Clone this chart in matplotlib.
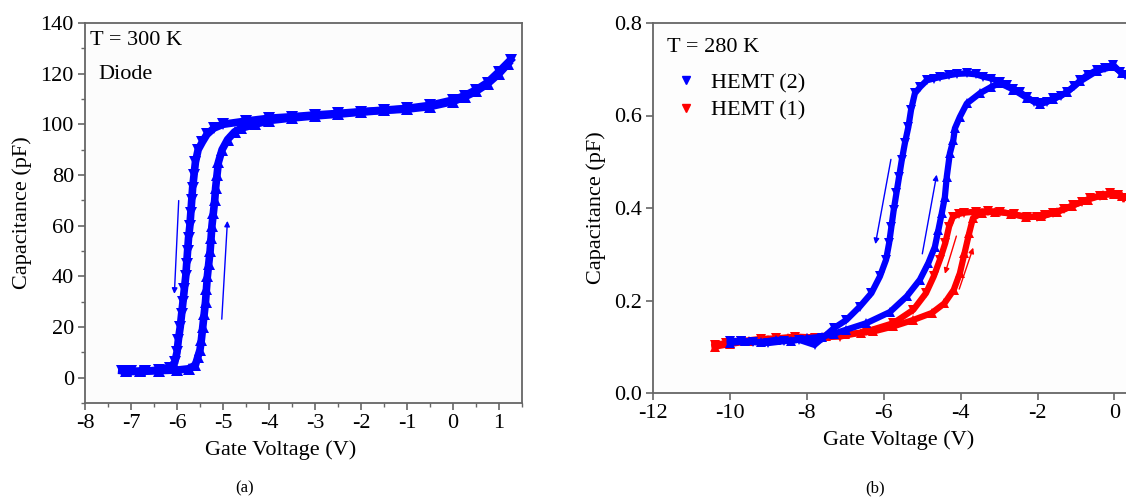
import matplotlib.pyplot as plt
from matplotlib.lines import Line2D
from matplotlib.ticker import MultipleLocator

plt.rcParams['font.family'] = ['Liberation Serif', 'DejaVu Serif']
plt.rcParams['axes.unicode_minus'] = False
fontsize = 16

# ---- (a) diode, T = 300 K ----
diode_down_v = [1.25, 1.0, 0.75, 0.5, 0.25, 0.0, -0.5, -1.0, -1.5, -2.0, -2.5, -3.0, -3.5, -4.0, -4.5, -5.0,
                -5.2, -5.35, -5.45, -5.54, -5.6, -5.63, -5.66, -5.68, -5.70, -5.72, -5.75, -5.77, -5.79,
                -5.81, -5.84, -5.87, -5.90, -5.93, -5.97, -6.0, -6.05, -6.15, -6.4, -6.7, -7.0, -7.2]
diode_down_c = [125.4, 120.8, 116.5, 113.6, 111.3, 109.6, 107.5, 106.3, 105.6, 105.0, 104.3, 103.7, 103.0,
                102.4, 101.3, 100.0, 98.5, 96.0, 93.0, 90.0, 85.0, 80.0, 75.0, 70.0, 65.0, 60.0, 55.0, 50.0,
                45.0, 40.0, 35.0, 30.0, 25.0, 20.0, 15.0, 10.0, 6.0, 4.0, 3.0, 2.5, 2.5, 2.8]
diode_up_v = [-7.1, -6.8, -6.4, -6.0, -5.75, -5.6, -5.55, -5.5, -5.47, -5.44, -5.41, -5.38, -5.36, -5.34,
              -5.31, -5.28, -5.26, -5.24, -5.21, -5.18, -5.16, -5.13, -5.1, -5.02, -4.9, -4.75, -4.6, -4.3,
              -4.0, -3.5, -3.0, -2.5, -2.0, -1.5, -1.0, -0.5, 0.0, 0.25, 0.5, 0.75, 1.0, 1.2]
diode_up_c = [2.5, 2.5, 2.8, 3.0, 3.5, 5.0, 8.0, 11.0, 15.0, 20.0, 25.0, 30.0, 35.0, 40.0, 45.0, 50.0, 55.0,
              60.0, 65.0, 70.0, 75.0, 80.0, 85.0, 90.0, 94.0, 97.0, 98.5, 100.0, 101.5, 102.5, 103.3, 104.0,
              104.8, 105.5, 106.0, 107.0, 109.0, 110.8, 113.0, 116.0, 120.0, 124.0]

# ---- (b) HEMTs, T = 280 K ----
h2_down_v = [0.28, 0.15, -0.03, -0.25, -0.46, -0.7, -0.89, -1.05, -1.24, -1.4, -1.59, -1.75, -1.93, -2.1,
             -2.28, -2.45, -2.63, -2.8, -2.98, -3.2, -3.41, -3.6, -3.84, -4.1, -4.3, -4.54, -4.7, -4.88,
             -5.05, -5.19, -5.29, -5.36, -5.45, -5.53, -5.60, -5.67, -5.74, -5.80, -5.86, -5.94, -6.10,
             -6.32, -6.62, -6.97, -7.3, -7.6, -7.8, -8.2, -8.6, -9.0, -9.4, -9.7, -10.0]
h2_down_c = [0.688, 0.694, 0.709, 0.703, 0.698, 0.688, 0.676, 0.663, 0.651, 0.642, 0.637, 0.630, 0.626,
             0.630, 0.640, 0.650, 0.658, 0.665, 0.673, 0.680, 0.684, 0.689, 0.691, 0.690, 0.687, 0.683,
             0.680, 0.676, 0.662, 0.648, 0.612, 0.575, 0.540, 0.504, 0.468, 0.432, 0.396, 0.360, 0.324,
             0.288, 0.252, 0.216, 0.187, 0.158, 0.140, 0.118, 0.104, 0.115, 0.112, 0.108, 0.110, 0.112, 0.113]
h2_up_v = [-10.0, -9.6, -9.2, -8.8, -8.4, -8.0, -7.6, -7.3, -6.97, -6.45, -5.84, -5.40, -5.06, -4.84, -4.67,
           -4.58, -4.49, -4.41, -4.36, -4.28, -4.19, -4.15, -4.02, -3.84, -3.5, -3.2, -2.98, -2.63, -2.28,
           -1.93, -1.59, -1.24, -0.89, -0.46, -0.03, 0.2]
h2_up_c = [0.108, 0.112, 0.110, 0.115, 0.113, 0.118, 0.122, 0.128, 0.137, 0.151, 0.175, 0.209, 0.245, 0.281,
           0.316, 0.352, 0.389, 0.424, 0.468, 0.518, 0.547, 0.572, 0.597, 0.626, 0.648, 0.662, 0.670, 0.656,
           0.638, 0.624, 0.635, 0.650, 0.674, 0.696, 0.706, 0.692]

h1_down_v = [0.23, 0.10, -0.11, -0.37, -0.63, -0.85, -1.07, -1.3, -1.59, -1.8, -2.02, -2.28, -2.6, -2.98,
             -3.3, -3.6, -3.9, -4.05, -4.2, -4.3, -4.4, -4.54, -4.7, -4.9, -5.23, -5.75, -6.45, -7.14,
             -7.8, -8.3, -8.8, -9.2, -9.7, -10.1, -10.4]
h1_down_c = [0.421, 0.428, 0.432, 0.427, 0.421, 0.413, 0.406, 0.397, 0.389, 0.384, 0.381, 0.381, 0.386,
             0.392, 0.393, 0.392, 0.390, 0.387, 0.381, 0.360, 0.324, 0.288, 0.252, 0.216, 0.180, 0.151,
             0.133, 0.122, 0.120, 0.122, 0.118, 0.117, 0.112, 0.108, 0.104]
h1_up_v = [-10.4, -10.0, -9.5, -9.0, -8.5, -8.0, -7.5, -7.0, -6.6, -6.27, -5.75, -5.23, -4.75, -4.42, -4.18,
           -4.02, -3.90, -3.78, -3.68, -3.45, -3.1, -2.7, -2.3, -1.9, -1.5, -1.1, -0.7, -0.3, 0.0, 0.2]
h1_up_c = [0.100, 0.106, 0.112, 0.115, 0.118, 0.120, 0.124, 0.127, 0.130, 0.133, 0.144, 0.158, 0.173, 0.194,
           0.223, 0.259, 0.302, 0.345, 0.378, 0.390, 0.392, 0.388, 0.380, 0.382, 0.392, 0.405, 0.418, 0.428,
           0.430, 0.425]

blue = '#0000ff'
red = '#ff0000'
spine_col = '#666666'

fig = plt.figure(figsize=(11.26, 4.99), dpi=100)
ax1 = fig.add_axes([85 / 1126, 1 - 403 / 499, (522 - 85) / 1126, (403 - 23) / 499])
ax2 = fig.add_axes([653 / 1126, 1 - 393 / 499, (1126 - 653) / 1126, (393 - 23) / 499])

# panel (a)
ax1.set_facecolor('#fcfcfc')
ax1.plot(diode_down_v, diode_down_c, color=blue, lw=5.5, marker='v', ms=8, mew=0)
ax1.plot(diode_up_v, diode_up_c, color=blue, lw=5.5, marker='^', ms=8, mew=0)
ax1.annotate('', xy=(-6.06, 32), xytext=(-5.96, 71),
             arrowprops=dict(arrowstyle='-|>', color=blue, lw=1, mutation_scale=8))
ax1.annotate('', xy=(-4.90, 63), xytext=(-5.03, 22),
             arrowprops=dict(arrowstyle='-|>', color=blue, lw=1, mutation_scale=8))
ax1.set_xlim(-8, 1.5)
ax1.set_ylim(-10, 140)
ax1.set_xticks(range(-8, 2))
ax1.set_yticks(range(0, 141, 20))
ax1.xaxis.set_minor_locator(MultipleLocator(0.5))
ax1.yaxis.set_minor_locator(MultipleLocator(10))
ax1.text(0.012, 0.98, 'T = 300 K', transform=ax1.transAxes, fontsize=fontsize, va='top')
ax1.text(0.03, 0.89, 'Diode', transform=ax1.transAxes, fontsize=fontsize, va='top')

# panel (b)
ax2.set_facecolor('#fdfdfd')
ax2.plot(h1_down_v, h1_down_c, color=red, lw=4.5, marker='v', ms=7, mew=0)
ax2.plot(h1_up_v, h1_up_c, color=red, lw=4.5, marker='^', ms=7, mew=0)
ax2.plot(h2_down_v, h2_down_c, color=blue, lw=4.5, marker='v', ms=7.5, mew=0)
ax2.plot(h2_up_v, h2_up_c, color=blue, lw=4.5, marker='^', ms=7.5, mew=0)
for (x0, y0, x1, y1, c) in [(-5.80, 0.511, -6.23, 0.316, blue), (-5.01, 0.295, -4.61, 0.478, blue),
                            (-4.09, 0.345, -4.43, 0.252, red), (-4.06, 0.219, -3.65, 0.320, red)]:
    ax2.annotate('', xy=(x1, y1), xytext=(x0, y0),
                 arrowprops=dict(arrowstyle='-|>', color=c, lw=1, mutation_scale=8), zorder=5)
ax2.set_xlim(-12, 0.3)
ax2.set_ylim(0, 0.8)
ax2.set_xticks(range(-12, 1, 2))
ax2.set_yticks([0.0, 0.2, 0.4, 0.6, 0.8])
ax2.set_yticklabels(['0.0', '0.2', '0.4', '0.6', '0.8'])
ax2.text(0.03, 0.96, 'T = 280 K', transform=ax2.transAxes, fontsize=fontsize, va='top')
handles = [Line2D([], [], color=blue, marker='v', ls='none', ms=6),
           Line2D([], [], color=red, marker='v', ls='none', ms=6)]
ax2.legend(handles, ['HEMT (2)', 'HEMT (1)'], loc='upper left', bbox_to_anchor=(0.005, 0.92),
           frameon=False, fontsize=fontsize, handlelength=1.0, handletextpad=0.6, labelspacing=0.3)
ax2.spines['right'].set_visible(False)

for ax in (ax1, ax2):
    for s in ax.spines.values():
        s.set_color(spine_col)
        s.set_linewidth(1.3)
    ax.tick_params(which='both', direction='out', color=spine_col, labelsize=fontsize, top=False, right=False)
    ax.tick_params(which='major', length=5, width=1.2, pad=3)
    ax.tick_params(which='minor', length=3, width=1)

ax1.set_ylabel('Capacitance (pF)', fontsize=fontsize, labelpad=6)
ax2.set_ylabel('Capacitance (pF)', fontsize=fontsize, labelpad=6)
fig.text(281 / 1126, 1 - 450 / 499, 'Gate Voltage (V)', fontsize=fontsize, ha='center', va='center')
fig.text(899 / 1126, 1 - 440 / 499, 'Gate Voltage (V)', fontsize=fontsize, ha='center', va='center')
fig.text(245 / 1126, 1 - 488 / 499, '(a)', fontsize=12, ha='center', va='center')
fig.text(875 / 1126, 1 - 488 / 499, '(b)', fontsize=12, ha='center', va='center')

plt.savefig('out.png', dpi=100)
